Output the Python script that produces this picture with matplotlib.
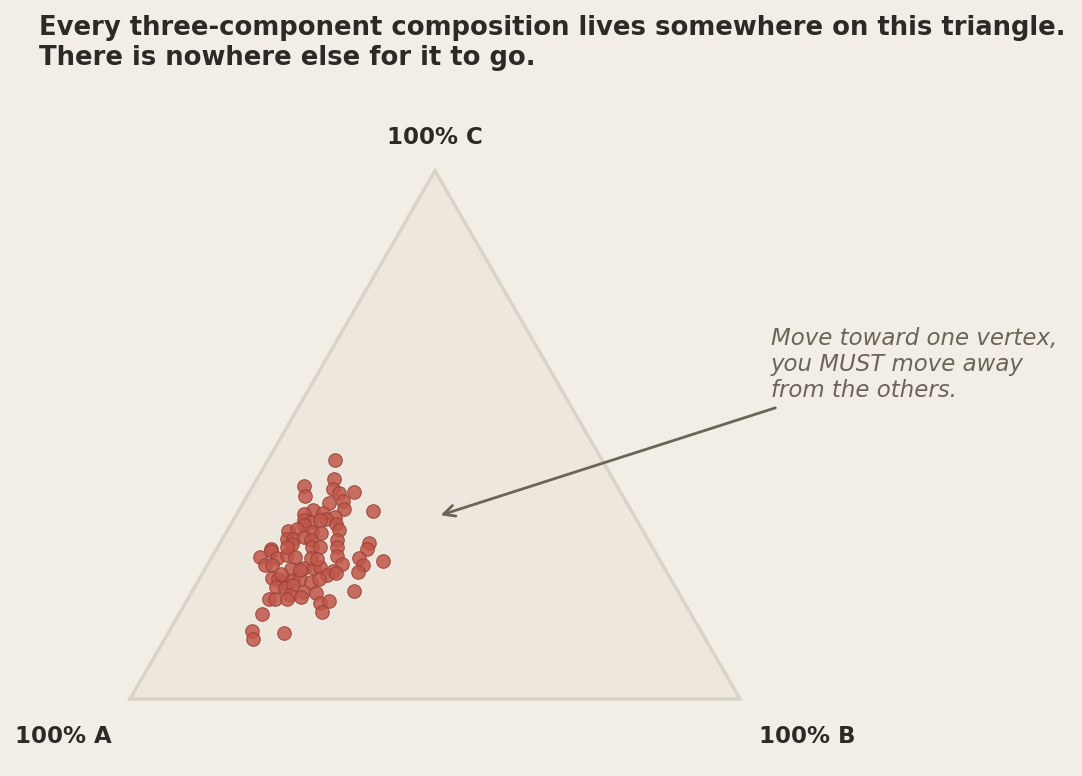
import numpy as np
import matplotlib
matplotlib.use("Agg")
import matplotlib.pyplot as plt
from matplotlib.patches import Polygon

# compositions in percent (B and C, A is the remainder)
comp_b = [11.0, 12.6, 8.4, 13.4, 17.1, 9.5, 14.8, 16.2, 14.1, 17.1, 22.0, 12.1,
          11.0, 14.0, 16.4, 15.1, 11.6, 12.9, 17.2, 12.1, 14.2, 18.3, 10.0, 11.3,
          14.0, 15.6, 10.6, 11.6, 13.2, 14.6, 18.9, 8.9, 15.5, 16.8, 19.5, 24.4,
          24.7, 7.9, 9.1, 10.8, 12.1, 13.6, 9.4, 10.6, 14.1, 16.1, 17.8, 18.7,
          16.3, 17.4, 20.4, 22.0, 21.2, 20.6, 21.8, 24.2, 25.5, 25.4, 28.4, 11.8,
          12.9, 14.2, 15.5, 16.5, 18.6, 19.6, 13.3, 14.9, 15.9, 18.2, 16.4, 20.5,
          13.3, 14.3, 16.3, 18.4, 22.1, 23.3, 23.2, 26.5, 13.6, 13.6, 14.5, 19.0,
          11.9, 11.4, 15.7, 12.9]
comp_c = [45.2, 41.6, 40.3, 39.8, 39.2, 38.4, 39.0, 37.5, 37.1, 36.0, 35.6, 35.8,
          35.0, 35.2, 34.5, 34.1, 33.9, 33.5, 33.1, 32.9, 33.9, 32.0, 31.8, 32.2,
          31.6, 31.4, 30.3, 30.3, 30.7, 30.1, 30.1, 28.4, 28.8, 28.8, 28.8, 29.5,
          28.4, 26.9, 28.0, 26.7, 27.3, 26.9, 25.4, 25.4, 24.6, 24.8, 24.8, 25.0,
          26.7, 26.5, 27.1, 25.6, 24.2, 23.5, 23.9, 26.7, 25.4, 24.0, 26.1, 22.9,
          22.7, 22.1, 22.5, 22.7, 22.1, 22.7, 21.2, 21.0, 21.6, 20.3, 19.7, 20.1,
          18.9, 18.9, 18.9, 19.3, 18.2, 18.6, 16.5, 20.4, 16.1, 12.9, 11.4, 12.5,
          29.3, 28.8, 24.4, 23.7]

vertex_labels = ["100% A", "100% B", "100% C"]
title = ("Every three-component composition lives somewhere on this triangle.\n"
         "There is nowhere else for it to go.")
note = "Move toward one vertex,\nyou MUST move away\nfrom the others."

bg = "#f2eee6"
ink = "#2b2a27"
muted = "#6b6459"

b = np.array(comp_b) / 100
c = np.array(comp_c) / 100
a = 1 - b - c

# ternary -> cartesian (A at origin, B at (1,0), C at top)
h = np.sqrt(3) / 2
x = b + c / 2
y = c * h

fig = plt.figure(figsize=(10.82, 7.76), dpi=100, facecolor=bg)
ax = fig.add_axes([0, 0, 1, 1])
ax.set_facecolor(bg)
ax.set_xlim(-130 / 610, 952 / 610)
ax.set_ylim(-77 / 610, 699 / 610)
ax.axis("off")

tri = Polygon([[0, 0], [1, 0], [0.5, h]], closed=True, facecolor="#ede7dd",
              edgecolor="#d9d4c7", linewidth=2.5, zorder=1)
ax.add_patch(tri)

ax.scatter(x, y, s=95, color="#c0574a", edgecolor="#9a3f34", linewidth=0.8,
           alpha=0.85, zorder=3)

ax.text(-0.1098, -0.0607, vertex_labels[0], ha="center", va="center",
        fontsize=16.5, fontweight="bold", color=ink)
ax.text(1.1098, -0.0607, vertex_labels[1], ha="center", va="center",
        fontsize=16.5, fontweight="bold", color=ink)
ax.text(0.5, (699 - 137) / 610, vertex_labels[2], ha="center", va="center",
        fontsize=16.5, fontweight="bold", color=ink)

ax.text((771 - 130) / 610, (699 - 327) / 610, note, ha="left", va="top",
        fontsize=16.5, fontstyle="italic", color=muted, linespacing=1.18)
ax.annotate("", xy=((438 - 130) / 610, (699 - 516) / 610),
            xytext=((778 - 130) / 610, (699 - 407) / 610),
            arrowprops=dict(arrowstyle="->", color=muted, lw=2,
                            mutation_scale=20))

fig.text(39 / 1082, 1 - 15 / 776, title, ha="left", va="top",
         fontsize=18.6, fontweight="bold", color=ink, linespacing=1.2)

fig.savefig("out.png", dpi=100, facecolor=bg)
